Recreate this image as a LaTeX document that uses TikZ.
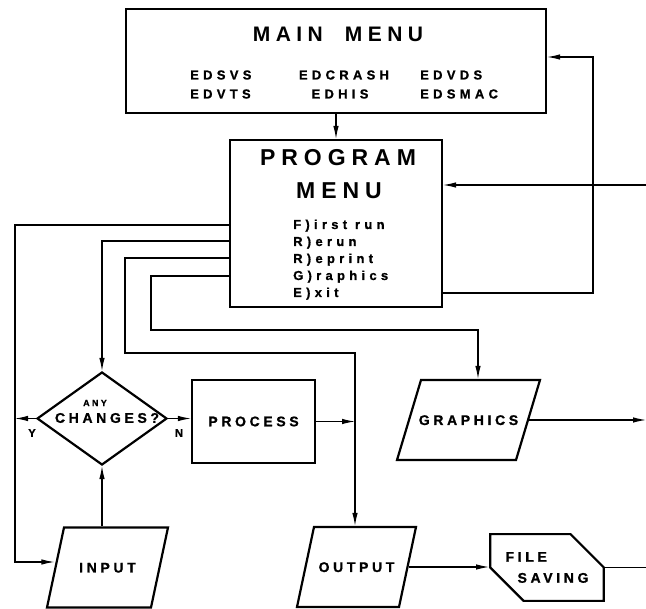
\documentclass[tikz,border=0pt]{standalone}
\usepackage{fontspec}
\setmainfont{Liberation Sans}
\newfontfamily\headfont{Liberation Sans Bold}[LetterSpace=26]
\newfontfamily\lblfont{Liberation Sans Bold}[LetterSpace=26, FakeBold=1]
\newfontfamily\itemfont{Liberation Sans Bold}[LetterSpace=33, FakeBold=1]
\usetikzlibrary{shapes.geometric, shapes.misc, arrows.meta, positioning}

\begin{document}
\begin{tikzpicture}[
    x=1pt, y=-1pt,
    box/.style={
        rectangle,
        draw=black,
        line width=2.2pt,
        inner sep=0pt
    },
    decision/.style={
        diamond,
        draw=black,
        line width=2.2pt,
        inner sep=0pt,
        minimum width=130pt,
        minimum height=93pt
    },
    io/.style={
        trapezium,
        trapezium left angle=78,
        trapezium right angle=102,
        draw=black,
        line width=2.2pt,
        inner sep=0pt,
        text height=45pt,
        text depth=35pt,
        font=\lblfont\fontsize{14}{17}\selectfont
    },
    store/.style={
        chamfered rectangle,
        chamfered rectangle corners={north east, south west},
        chamfered rectangle xsep=20pt,
        chamfered rectangle ysep=18pt,
        draw=black,
        line width=2.2pt,
        inner sep=0pt,
        align=left,
        font=\lblfont\fontsize{14}{21}\selectfont
    },
    arrow/.style={
        -{Latex[length=13pt,width=5.5pt]},
        line width=1.1pt
    },
    link/.style={
        line width=1.1pt
    },
    heading/.style={
        font=\headfont\fontsize{21}{25}\selectfont,
        inner sep=0pt
    },
    progheading/.style={
        font=\headfont\fontsize{23}{27}\selectfont,
        inner sep=0pt
    },
    lbl/.style={
        font=\lblfont\fontsize{14}{17}\selectfont,
        inner sep=0pt
    },
    item/.style={
        font=\itemfont\fontsize{13}{16}\selectfont,
        inner sep=0pt
    },
    tiny/.style={
        font=\lblfont\fontsize{9}{11}\selectfont,
        inner sep=0pt
    },
    answer/.style={
        font=\lblfont\fontsize{11}{13}\selectfont,
        inner sep=0pt
    }
]

\useasboundingbox (0,0) rectangle (646,609);

% Menus
\node[box, minimum width=420pt, minimum height=104pt] (mainmenu) at (336,61) {};
\node[heading] (maintitle) at (338,34) {MAIN\hspace*{22pt}MENU};
\node[item, anchor=west] (edsvs) at (190,75) {EDSVS};
\node[item, anchor=west] (edvts) at (190,94) {EDVTS};
\node[item] (edcrash) at (344,75) {EDCRASH};
\node[item] (edhis) at (340,94) {EDHIS};
\node[item, anchor=west] (edvds) at (420,75) {EDVDS};
\node[item, anchor=west] (edsmac) at (420,94) {EDSMAC};

\node[box, minimum width=212pt, minimum height=167pt] (prog) at (336,223.5) {};
\node[progheading] (progtitle) at (338,158) {PROGRAM};
\node[progheading] (progmenu) at (339,191) {MENU};
\foreach \name/\txt/\yy in {mfirst/F)irst run/229, mrerun/R)erun/246,
        mreprint/R)eprint/263, mgfx/G)raphics/280, mexit/E)xit/297} {
    \node[item, anchor=base west] (\name) at (293,\yy) {\txt};
}

% Flow chart
\node[decision] (chg) at (102,418.5) {};
\node[tiny] (chgany) at (95,403) {ANY};
\node[lbl] (chgtext) at (107,418) {CHANGES?};
\node[answer] (yes) at (32,433) {Y};
\node[answer] (no) at (179,433) {N};

\node[box, lbl, minimum width=123pt, minimum height=83pt] (proc) at (253.5,421.5) {PROCESS};
\node[io, trapezium left angle=73.3, trapezium right angle=106.7] (graph) at (468.5,420) {\makebox[95pt]{GRAPHICS}};
\node[io] (input) at (107.5,567.5) {\makebox[87pt]{INPUT}};
\node[io] (output) at (356.5,567) {\makebox[85pt]{OUTPUT}};
\node[store, minimum width=110pt, minimum height=59pt] (save) at (547,567.5) {FILE\\\hspace*{12pt}SAVING};

% Connections
\coordinate (exit) at (442,293);
\coordinate (exitup) at (593,57);
\coordinate (back) at (646,185);
\coordinate (first) at (230,225);
\coordinate (firstdown) at (15,562);
\coordinate (rerun) at (230,241);
\coordinate (reprint) at (230,258);
\coordinate (reprintbend) at (125,353);
\coordinate (outcol) at (355,353);
\coordinate (gfx) at (230,276);
\coordinate (gfxbend) at (151,330);
\coordinate (gfxcol) at (478,330);
\coordinate (gfxout) at (646,417);
\coordinate (saveout) at (646,565);

\draw[arrow] (mainmenu) -- (prog);
\draw[arrow] (exit) -| (exitup) -- (exitup -| mainmenu.east);
\draw[arrow] (back) -- (back -| prog.east);
\draw[arrow] (first) -| (firstdown) -- (firstdown -| input.west);
\draw[arrow] (rerun) -| (chg.north);
\draw[arrow] (reprint) -| (reprintbend) -- (outcol) -- (outcol |- output.north);
\draw[arrow] (gfx) -| (gfxbend) -- (gfxcol) -- (gfxcol |- graph.north);
\draw[arrow] (chg.west) -- (chg.west -| firstdown);
\draw[arrow] (chg.east) -- (chg.east -| proc.west);
\draw[arrow] (proc.east) -- (proc.east -| outcol);
\draw[arrow] (input.north -| chg.south) -- (chg.south);
\draw[arrow] (graph.east) -- (graph.east -| gfxout);
\draw[arrow] (output.east) -- (output.east -| save.west);
\draw[link] (save.east) -- (save.east -| saveout);

\end{tikzpicture}
\end{document}
